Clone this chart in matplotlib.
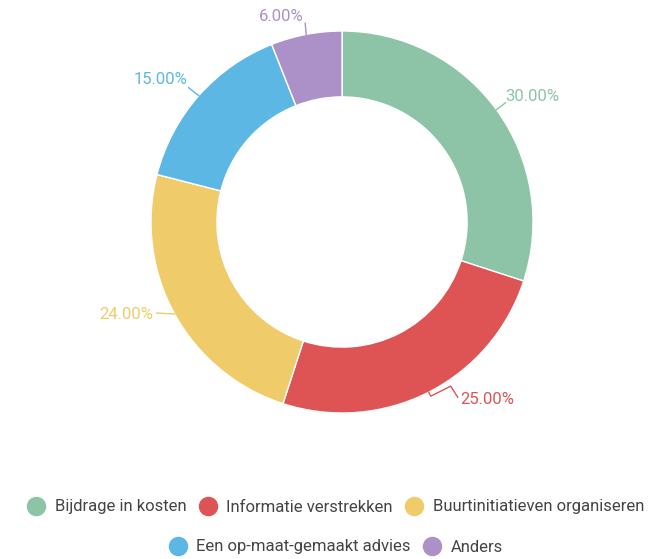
import numpy as np
import matplotlib.pyplot as plt
from matplotlib.lines import Line2D
from matplotlib.transforms import offset_copy

plt.rcParams['font.family'] = ['Roboto', 'DejaVu Sans']

# data
categories = ['Bijdrage in kosten', 'Informatie verstrekken', 'Buurtinitiatieven organiseren',
              'Een op-maat-gemaakt advies', 'Anders']
values = [30.0, 25.0, 24.0, 15.0, 6.0]
colors = ['#8DC4A8', '#DE5455', '#EFCB69', '#5DB7E4', '#AC90C8']

# leader line bends (pixels from the wedge edge, y up) and text offset
leaders = [
    ([(0, 0), (9, 7)], (9, 13)),
    ([(0, 0), (2, -4), (22, 6), (29, -5)], (32, -7)),
    ([(0, 0), (-18, 1)], (-21, 0)),
    ([(0, 0), (-10, 8)], (-11, 16)),
    ([(0, 0), (-1, 11)], (-3, 18)),
]

fig = plt.figure(figsize=(6.72, 5.59), dpi=100)
ax = fig.add_axes([151 / 672, 146 / 559, 382 / 672, 382 / 559])

wedges, _ = ax.pie(values, colors=colors, startangle=90, counterclock=False, radius=1,
                   wedgeprops=dict(width=0.345, edgecolor='white', linewidth=1))
ax.set_xlim(-1, 1)
ax.set_ylim(-1, 1)
ax.set_aspect('equal')
ax.axis('off')

# percentage labels with leader lines
for w, v, c, (path, toff) in zip(wedges, values, colors, leaders):
    ang = np.deg2rad((w.theta1 + w.theta2) / 2)
    x0, y0 = np.cos(ang), np.sin(ang)
    px, py = ax.transData.transform((x0, y0))
    pts = ax.transData.inverted().transform([(px + dx, py + dy) for dx, dy in path])
    ax.plot(pts[:, 0], pts[:, 1], color=c, lw=1, clip_on=False)
    tr = offset_copy(ax.transData, fig=fig, x=toff[0], y=toff[1], units='dots')
    ha = 'left' if x0 > 0 else 'right'
    ax.text(x0, y0, '%.2f%%' % v, color=c, fontsize=12, ha=ha, va='center',
            transform=tr, clip_on=False)

def legend_row(idx, ypos):
    handles = [Line2D([], [], marker='o', linestyle='', markersize=13,
                      markerfacecolor=colors[i], markeredgecolor=colors[i]) for i in idx]
    leg = fig.legend(handles, [categories[i] for i in idx], loc='center',
                     bbox_to_anchor=(0.5, ypos), ncol=len(idx), frameon=False,
                     fontsize=12, handletextpad=0.6, columnspacing=0.8,
                     handlelength=1.0, labelcolor='#444444')
    return leg

legend_row([0, 1, 2], 1 - 507 / 559)
legend_row([3, 4], 1 - 547 / 559)

fig.savefig('out.png', dpi=100)
